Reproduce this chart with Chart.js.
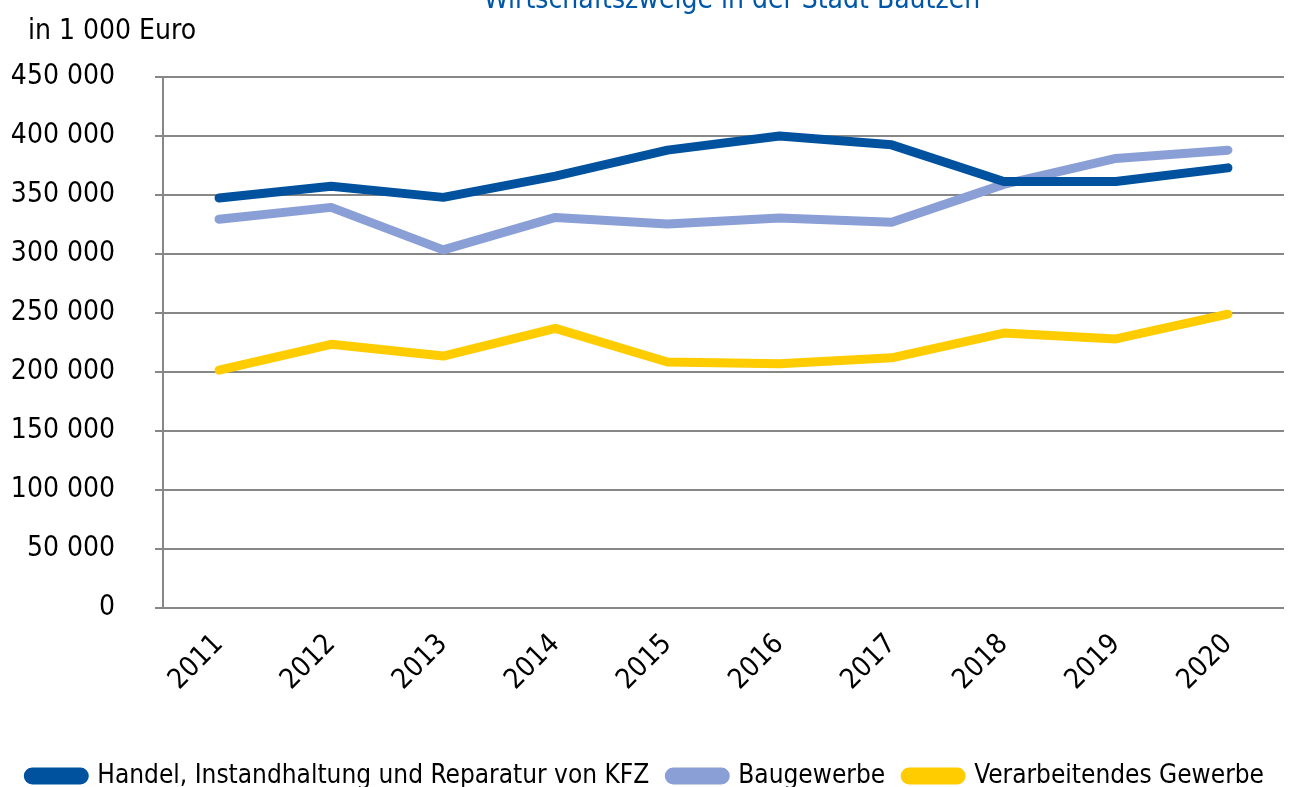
<!DOCTYPE html>
<html>
<head>
<meta charset="utf-8">
<script src="https://cdn.jsdelivr.net/npm/chart.js@4/dist/chart.umd.min.js"></script>
<style>
    html, body { margin: 0; padding: 0; background: #fff; overflow: hidden; }
    #wrap { position: relative; width: 1298px; height: 787px; overflow: hidden; }
    #box { position: absolute; left: 0; top: 0; width: 1298px; height: 800px; }
    #title { position: absolute; left: 0; width: 1464px; top: -18px; text-align: center;
        font: 28px 'DejaVu Sans Condensed', 'DejaVu Sans', sans-serif; color: #0057A8; white-space: nowrap; }
    #unit { position: absolute; left: 28px; top: 13px;
        font: 28px 'DejaVu Sans Condensed', 'DejaVu Sans', sans-serif; color: #000; }
</style>
</head>
<body>
<div id="wrap">
    <div id="box"><canvas id="chart"></canvas></div>
    <div id="title">Wirtschaftszweige in der Stadt Bautzen</div>
    <div id="unit">in 1 000 Euro</div>
</div>
<script>
let years = ['2011', '2012', '2013', '2014', '2015', '2016', '2017', '2018', '2019', '2020'];
let handel = [347500, 357500, 348000, 366000, 388000, 400000, 392500, 361500, 361500, 373000];
let baugewerbe = [329500, 339500, 303500, 331000, 325500, 330500, 327000, 359000, 381000, 388000];
let verarbeitendes = [201500, 223500, 213500, 237000, 208500, 207000, 212000, 233000, 228000, 249000];
let seriesNames = ['Handel, Instandhaltung und Reparatur von KFZ', 'Baugewerbe', 'Verarbeitendes Gewerbe'];
let seriesColors = ['#00529F', '#8A9FD6', '#FFCC00'];

let fontFamily = "'DejaVu Sans Condensed', 'DejaVu Sans', sans-serif";
let chart = document.getElementById('chart');

let makeSet = (name, data, color) => {
    return {
        label: name,
        data: data,
        borderColor: color,
        backgroundColor: color,
        borderWidth: 9,
        borderCapStyle: 'round',
        borderJoinStyle: 'round',
        pointRadius: 0,
        tension: 0,
        fill: false
    };
};

let myChart = new Chart(chart, {
    type: 'line',
    data: {
        labels: years,
        datasets: [
            makeSet(seriesNames[0], handel, seriesColors[0]),
            makeSet(seriesNames[1], baugewerbe, seriesColors[1]),
            makeSet(seriesNames[2], verarbeitendes, seriesColors[2])
        ]
    },
    options: {
        responsive: true,
        maintainAspectRatio: false,
        animation: false,
        layout: {
            padding: { top: 77, right: 14, bottom: 1, left: 0 }
        },
        scales: {
            x: {
                offset: true,
                grid: { display: false, drawTicks: false },
                border: { display: false },
                ticks: {
                    color: '#000',
                    font: { family: fontFamily, size: 28 },
                    minRotation: 45,
                    maxRotation: 45,
                    padding: 20
                },
                afterFit: (scale) => { scale.height = 135; }
            },
            y: {
                min: 0,
                max: 450000,
                grid: { color: '#878787', lineWidth: 2, tickLength: 8 },
                border: { color: '#878787', width: 2 },
                ticks: {
                    stepSize: 50000,
                    color: '#000',
                    padding: 40,
                    font: { family: fontFamily, size: 28 },
                    callback: (value) => value.toString().replace(/\B(?=(\d{3})+(?!\d))/g, ' ')
                },
                afterFit: (scale) => { scale.width = 163; }
            }
        },
        plugins: {
            legend: {
                position: 'bottom',
                align: 'end',
                labels: {
                    color: '#000',
                    font: { family: fontFamily, size: 26 },
                    boxWidth: 56,
                    boxHeight: 8,
                    useBorderRadius: true,
                    borderRadius: 4,
                    padding: 20
                }
            },
            tooltip: { enabled: false }
        }
    }
});
</script>
</body>
</html>
